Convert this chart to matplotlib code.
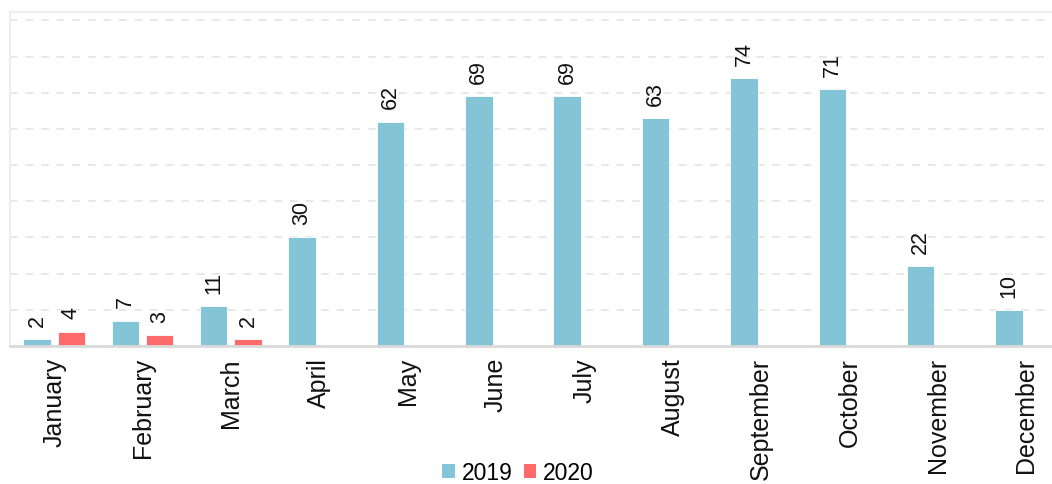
import matplotlib
matplotlib.use("Agg")
import matplotlib.pyplot as plt
import numpy as np
from matplotlib.patches import Patch

months = ["January", "February", "March", "April", "May", "June", "July",
          "August", "September", "October", "November", "December"]
values_2019 = [2, 7, 11, 30, 62, 69, 69, 63, 74, 71, 22, 10]
values_2020 = [4, 3, 2, None, None, None, None, None, None, None, None, None]
series_names = ["2019", "2020"]
colors = ["#83C5D6", "#FF6B6B"]

plt.rcParams["font.family"] = ["Liberation Sans", "DejaVu Sans"]

fig = plt.figure(figsize=(10.52, 4.85), dpi=100)
ax = fig.add_axes([10 / 1052, 138 / 485, 1051 / 1052, 334 / 485])

x = np.arange(len(months))
w = 0.31
off = 0.194

for k, vals in enumerate([values_2019, values_2020]):
    xs = [xi + (off if k else -off) for xi, v in zip(x, vals) if v is not None]
    vs = [v for v in vals if v is not None]
    ax.bar(xs, vs, width=w, color=colors[k], edgecolor="white", linewidth=0.6, zorder=3)
    for xi, v in zip(xs, vs):
        ax.annotate(str(v), (xi, v), xytext=(0, 9.5), textcoords="offset points",
                    rotation=90, ha="center", va="bottom", fontsize=15.5, color="#111111")

ax.set_xlim(-0.5, -0.5 + 1042 / 87.6)
ax.set_ylim(0, 92.3)
ax.set_yticks(np.arange(10, 91, 10))
ax.set_yticklabels([])
ax.tick_params(axis="y", length=0)
ax.yaxis.grid(True, color="#E8E8E8", linestyle=(0, (4, 4)), linewidth=1.4, zorder=0)

ax.set_xticks(x)
ax.set_xticklabels(months, rotation=90, fontsize=18, color="#111111")
ax.tick_params(axis="x", length=0, pad=8)

for side in ["left", "top"]:
    ax.spines[side].set_color("#EEEEEE")
    ax.spines[side].set_linewidth(1.5)
ax.spines["right"].set_visible(False)
ax.spines["bottom"].set_color("#D9D9D9")
ax.spines["bottom"].set_linewidth(2)
ax.spines["bottom"].set_zorder(4)

handles = [Patch(facecolor=c, edgecolor="none") for c in colors]
fig.legend(handles, series_names, loc="center", bbox_to_anchor=(518 / 1052, 1 - 474 / 485),
           ncol=2, frameon=False, fontsize=16.5, handlelength=0.55, handleheight=0.55,
           handletextpad=0.3, columnspacing=0.5, borderpad=0)

fig.savefig("out.png", dpi=100)
